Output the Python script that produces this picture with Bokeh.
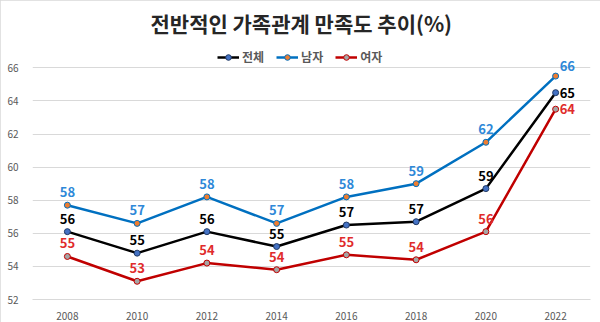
from bokeh.plotting import figure
from bokeh.models import Range1d, Legend, LegendItem, ColumnDataSource, FixedTicker
from bokeh.core.properties import value
from bokeh.embed import file_html
from bokeh.resources import INLINE

years = [2008, 2010, 2012, 2014, 2016, 2018, 2020, 2022]
total = [56.1, 54.8, 56.1, 55.2, 56.5, 56.7, 58.7, 64.5]
male = [57.7, 56.6, 58.2, 56.6, 58.2, 59.0, 61.5, 65.5]
female = [54.6, 53.1, 54.2, 53.8, 54.7, 54.4, 56.1, 63.5]
total_labels = ["56", "55", "56", "55", "57", "57", "59", "65"]
male_labels = ["58", "57", "58", "57", "58", "59", "62", "66"]
female_labels = ["55", "53", "54", "54", "55", "54", "56", "64"]
series_names = ["전체", "남자", "여자"]
title_text = "전반적인 가족관계 만족도 추이(%)"
y_ticks = [52, 54, 56, 58, 60, 62, 64, 66]

FONT = "Noto Sans CJK KR"

p = figure(width=600, height=322, output_backend="svg", toolbar_location=None,
           x_range=Range1d(2007, 2023), y_range=Range1d(52, 67.53),
           min_border_left=32, min_border_right=10, min_border_bottom=23, min_border_top=42,
           background_fill_color="white", border_fill_color="white")
p.styles = {"outline": "1px solid #D9D9D9", "outline-offset": "-1px"}
p.outline_line_color = None

p.title.text = title_text
p.title.align = "left"
p.title.offset = 118
p.title.text_font = FONT
p.title.text_font_size = "21px"
p.title.text_font_style = "bold"
p.title.text_color = "#262626"

p.xgrid.grid_line_color = None
p.ygrid.grid_line_color = "#D9D9D9"
p.ygrid.ticker = FixedTicker(ticks=y_ticks)

p.yaxis.ticker = FixedTicker(ticks=y_ticks)
p.yaxis.axis_line_color = None
p.yaxis.major_tick_line_color = None
p.yaxis.minor_tick_line_color = None
p.yaxis.major_label_text_font = FONT
p.yaxis.major_label_text_font_size = "10px"
p.yaxis.major_label_text_color = "#595959"
p.yaxis.major_label_standoff = 8

p.xaxis.ticker = FixedTicker(ticks=years)
p.xaxis.axis_line_color = "#D9D9D9"
p.xaxis.major_tick_line_color = None
p.xaxis.minor_tick_line_color = None
p.xaxis.major_label_text_font = FONT
p.xaxis.major_label_text_font_size = "10px"
p.xaxis.major_label_text_color = "#595959"
p.xaxis.major_label_standoff = 6

specs = [
    (total, total_labels, "#000000", "#4472C4", "#1F3864", "#000000"),
    (male, male_labels, "#0070C0", "#ED7D31", "#0070C0", "#2E88D8"),
    (female, female_labels, "#C00000", "#A5A5A5", "#C00000", "#E02B2B"),
]

items = []
for name, (vals, labs, lc, mfill, mline, tc) in zip(series_names, specs):
    n = len(years)
    xoff = [0] * (n - 1)
    yoff = [-13] * (n - 1)
    align = ["center"] * (n - 1)
    src = ColumnDataSource(dict(x=years, y=vals, t=labs,
                                xo=xoff + [4], yo=yoff + [0 if vals is not male else -10],
                                al=align + ["left"]))
    r1 = p.line("x", "y", source=src, line_color=lc, line_width=2.5)
    r2 = p.scatter("x", "y", source=src, size=6, fill_color=mfill, line_color=mline, line_width=1)
    p.text("x", "y", text="t", source=src, x_offset="xo", y_offset="yo", text_align="al",
           text_baseline="middle", text_font=value(FONT), text_font_size="13px",
           text_font_style="bold", text_color=tc)
    items.append(LegendItem(label=name, renderers=[r1, r2]))

legend = Legend(items=items, orientation="horizontal", location=(185, 234),
                label_text_font=FONT, label_text_font_size="12px", label_text_color="#595959",
                label_text_font_style="bold", label_height=14, glyph_height=14,
                glyph_width=22, label_standoff=3, spacing=12, padding=3, margin=0,
                border_line_color=None, background_fill_alpha=0)
p.add_layout(legend, "center")

open("out.html", "w").write(file_html(p, INLINE))
